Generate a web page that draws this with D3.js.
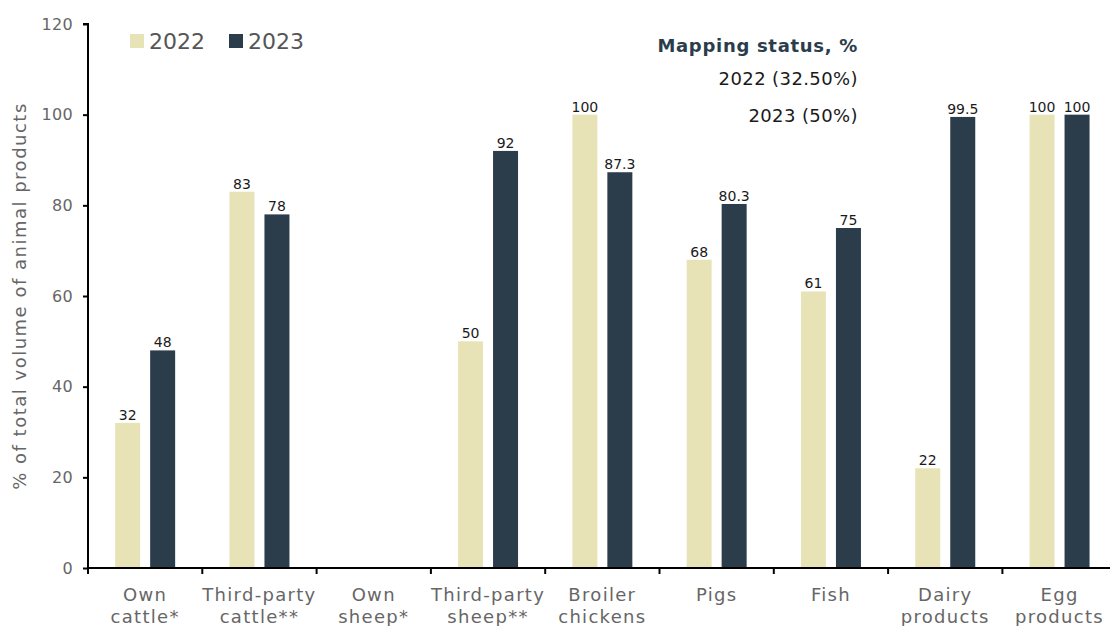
<!DOCTYPE html>
<html>
<head>
<meta charset="utf-8">
<script src="https://cdn.jsdelivr.net/npm/d3@7"></script>
<style>
  html, body { margin: 0; padding: 0; background: #fff; }
  svg { display: block; font-family: "DejaVu Sans", "Noto Sans", sans-serif; }
</style>
</head>
<body>
<svg id="chart" width="1110" height="626"></svg>
<script>
// Animal product categories (two-line labels)
const categories = [
  ["Own", "cattle*"],
  ["Third-party", "cattle**"],
  ["Own", "sheep*"],
  ["Third-party", "sheep**"],
  ["Broiler", "chickens"],
  ["Pigs"],
  ["Fish"],
  ["Dairy", "products"],
  ["Egg", "products"]
];
const seriesNames = ["2022", "2023"];
const values2022 = [32, 83, null, 50, 100, 68, 61, 22, 100];
const values2023 = [48, 78, null, 92, 87.3, 80.3, 75, 99.5, 100];
const valueLabels2022 = ["32", "83", "", "50", "100", "68", "61", "22", "100"];
const valueLabels2023 = ["48", "78", "", "92", "87.3", "80.3", "75", "99.5", "100"];
const yTicks = [0, 20, 40, 60, 80, 100, 120];
const statusTitle = "Mapping status, %";
const statusLines = ["2022 (32.50%)", "2023 (50%)"];

const colors = { "2022": "#e8e3b7", "2023": "#2b3c4b" };

const svg = d3.select("#chart");
const plotLeft = 88, plotTop = 24, plotBottom = 568;
const band = 114.3;
const plotRight = plotLeft + band * categories.length;

const x = d3.scaleBand()
  .domain(d3.range(categories.length))
  .range([plotLeft, plotRight])
  .paddingInner(0).paddingOuter(0);

const y = d3.scaleLinear().domain([0, 120]).range([plotBottom, plotTop]);

const barW = 25, gap = 10;
const xSub = d3.scaleOrdinal()
  .domain(seriesNames)
  .range([-(gap / 2 + barW), gap / 2]);

const series = [
  { name: "2022", values: values2022, labels: valueLabels2022 },
  { name: "2023", values: values2023, labels: valueLabels2023 }
];

// Bars and value labels
series.forEach(s => {
  const g = svg.append("g");
  s.values.forEach((v, i) => {
    if (v == null) return;
    const cx = x(i) + x.bandwidth() / 2 + xSub(s.name);
    g.append("rect")
      .attr("x", cx)
      .attr("y", y(v))
      .attr("width", barW)
      .attr("height", y(0) - y(v))
      .attr("fill", colors[s.name]);
    g.append("text")
      .attr("x", cx + barW / 2)
      .attr("y", y(v) - 3)
      .attr("text-anchor", "middle")
      .attr("font-size", 14)
      .attr("fill", "#1a1a1a")
      .text(s.labels[i]);
  });
});

// Y axis
const yAxis = d3.axisLeft(y).tickValues(yTicks).tickSize(5).tickPadding(10);
const gy = svg.append("g").attr("transform", `translate(${plotLeft},0)`).call(yAxis);
gy.attr("font-family", null).attr("font-size", null);
gy.select(".domain").attr("stroke", "#000").attr("stroke-width", 2)
  .attr("d", `M-5,${plotTop}H0V${plotBottom}`);
gy.selectAll(".tick line").attr("stroke", "#000").attr("stroke-width", 2);
gy.selectAll(".tick text").attr("font-size", 16).attr("letter-spacing", 0.3)
  .attr("fill", "#666");

// X axis with separators between categories
const gx = svg.append("g");
gx.append("line")
  .attr("x1", plotLeft - 1).attr("x2", plotRight)
  .attr("y1", plotBottom).attr("y2", plotBottom)
  .attr("stroke", "#000").attr("stroke-width", 2);
d3.range(categories.length + 1).forEach(i => {
  const xp = i < categories.length ? x(i) : plotRight;
  gx.append("line")
    .attr("x1", xp).attr("x2", xp)
    .attr("y1", plotBottom).attr("y2", plotBottom + 6)
    .attr("stroke", "#000").attr("stroke-width", 2);
});
categories.forEach((lines, i) => {
  const t = gx.append("text")
    .attr("x", x(i) + x.bandwidth() / 2)
    .attr("y", 601)
    .attr("text-anchor", "middle")
    .attr("font-size", 18)
    .attr("letter-spacing", 1.3)
    .attr("fill", "#666");
  lines.forEach((ln, k) => {
    t.append("tspan")
      .attr("x", x(i) + x.bandwidth() / 2)
      .attr("dy", k === 0 ? 0 : 22)
      .text(ln);
  });
});

// Y axis title
svg.append("text")
  .attr("transform", `translate(26,${(plotTop + plotBottom) / 2}) rotate(-90)`)
  .attr("text-anchor", "middle")
  .attr("font-size", 18)
  .attr("letter-spacing", 1.5)
  .attr("fill", "#666")
  .text("% of total volume of animal products");

// Legend
const legend = svg.append("g");
const legendX = [130, 229];
seriesNames.forEach((n, i) => {
  legend.append("rect")
    .attr("x", legendX[i]).attr("y", 34)
    .attr("width", 14).attr("height", 14)
    .attr("fill", colors[n]);
  legend.append("text")
    .attr("x", legendX[i] + 19).attr("y", 49)
    .attr("font-size", 22)
    .attr("fill", "#555")
    .text(n);
});

// Mapping status note
svg.append("text")
  .attr("x", 858).attr("y", 52)
  .attr("text-anchor", "end")
  .attr("font-size", 18).attr("font-weight", "bold")
  .attr("letter-spacing", 0.7)
  .attr("fill", "#2b3c4b")
  .text(statusTitle);
statusLines.forEach((ln, i) => {
  svg.append("text")
    .attr("x", 858).attr("y", 85 + i * 37)
    .attr("text-anchor", "end")
    .attr("font-size", 18)
    .attr("letter-spacing", 0.4)
    .attr("fill", "#1a1a1a")
    .text(ln);
});
</script>
</body>
</html>
